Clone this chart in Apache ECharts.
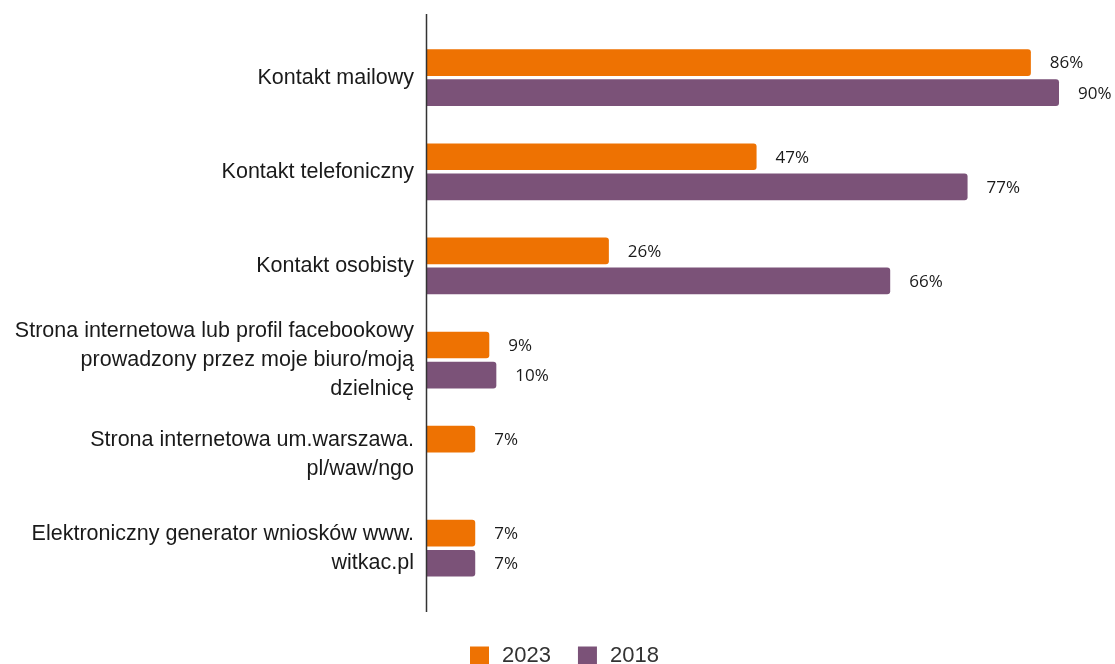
<!DOCTYPE html>
<html>
<head>
<meta charset="utf-8">
<script src="https://cdn.jsdelivr.net/npm/echarts@6/dist/echarts.min.js"></script>
<style>
html,body{margin:0;padding:0;background:#fff;}
#c{width:1115px;height:664px;}
</style>
</head>
<body>
<div id="c"></div>
<script>
const categories = [
  "Kontakt mailowy",
  "Kontakt telefoniczny",
  "Kontakt osobisty",
  "Strona internetowa lub profil facebookowy\nprowadzony przez moje biuro/moją\ndzielnicę",
  "Strona internetowa um.warszawa.\npl/waw/ngo",
  "Elektroniczny generator wniosków www.\nwitkac.pl"
];
const seriesNames = ["2023", "2018"];
const values2023 = [86, 47, 26, 9, 7, 7];
const values2018 = [90, 77, 66, 10, null, 7];

const chart = echarts.init(document.getElementById('c'), null, {renderer: 'canvas'});
const labelStyle = {
  show: true,
  position: 'right',
  distance: 19,
  formatter: '{c}%',
  fontFamily: 'Open Sans',
  fontSize: 17,
  color: '#1a1a1a',
  offset: [0, 1]
};
chart.setOption({
  animation: false,
  backgroundColor: '#ffffff',
  grid: {left: 426, right: 56, top: 30.6, height: 564.7, containLabel: false},
  xAxis: {type: 'value', min: 0, max: 90, show: false},
  yAxis: {
    type: 'category',
    data: categories,
    inverse: true,
    axisLine: {show: false},
    axisTick: {show: false},
    axisLabel: {
      margin: 12,
      fontFamily: 'Liberation Sans, Arial, sans-serif',
      fontSize: 21.5,
      lineHeight: 29,
      color: '#1a1a1a',
      align: 'right'
    }
  },
  legend: {
    data: seriesNames,
    left: 470,
    top: 645,
    padding: 0,
    icon: 'rect',
    itemWidth: 19,
    itemHeight: 19,
    itemGap: 27,
    textStyle: {
      fontFamily: 'Liberation Sans, Arial, sans-serif',
      fontSize: 22,
      color: '#333',
      padding: [0, 0, 0, 8]
    }
  },
  graphic: [{
    type: 'line',
    shape: {x1: 426.5, y1: 14, x2: 426.5, y2: 612},
    style: {stroke: '#333', lineWidth: 1.5},
    z: 10
  }],
  series: [
    {
      name: seriesNames[0],
      type: 'bar',
      data: values2023,
      barWidth: 26.7,
      barGap: '12.5%',
      itemStyle: {color: '#EE7202', borderRadius: [0, 3, 3, 0]},
      label: labelStyle
    },
    {
      name: seriesNames[1],
      type: 'bar',
      data: values2018,
      barWidth: 26.7,
      barGap: '12.5%',
      itemStyle: {color: '#7B5278', borderRadius: [0, 3, 3, 0]},
      label: labelStyle
    }
  ]
});
</script>
</body>
</html>
